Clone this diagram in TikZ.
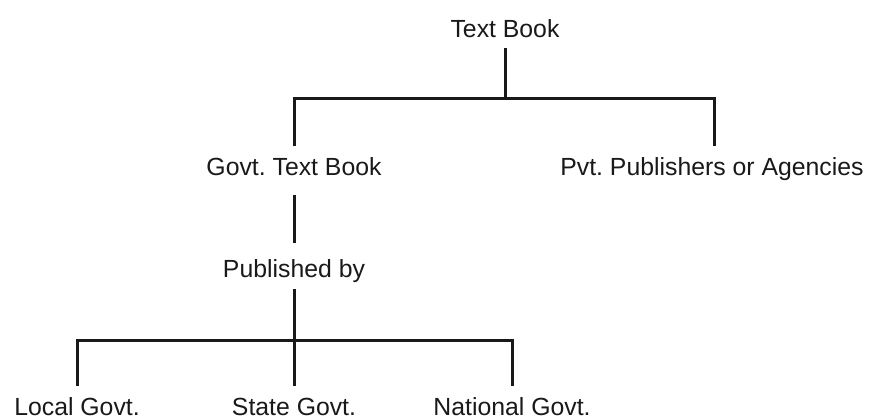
\documentclass[tikz,border=0pt]{standalone}
\usepackage{fontspec}
\setmainfont{Liberation Sans}
\frenchspacing
\begin{document}
\begin{tikzpicture}[x=0.5pt,y=-0.5pt,
  lbl/.style={inner sep=0pt, anchor=base, font=\fontsize{12.4}{14}\selectfont, text=black!90},
  conn/.style={line width=1.5pt, draw=black!90, line join=miter, line cap=butt}]
\useasboundingbox (0,0) rectangle (872,419);
% labels
\node[lbl] (tb)  at (505,37)  {Text Book};
\node[lbl] (gtb) at (294,175) {Govt. Text Book};
\node[lbl] (pvt) at (712,175) {Pvt. Publishers or Agencies};
\node[lbl] (pub) at (294,277) {Published by};
\node[lbl] (loc) at (77,415)  {Local Govt.};
\node[lbl] (st)  at (294,415) {State Govt.};
\node[lbl] (nat) at (512,415) {National Govt.};
% junction coordinates
\coordinate (tbB) at (505,48);
\coordinate (j1)  at (505,98);
\coordinate (jl)  at (294,98);
\coordinate (jr)  at (714,98);
\coordinate (gT)  at (294,146);
\coordinate (pT)  at (714,146);
\coordinate (gB)  at (294,195);
\coordinate (pbT) at (294,243);
\coordinate (pbB) at (294,289);
\coordinate (j2)  at (294,340);
\coordinate (j2l) at (77,340);
\coordinate (j2r) at (512,340);
\coordinate (lT)  at (77,386);
\coordinate (sT)  at (294,386);
\coordinate (nT)  at (512,386);
% connectors
\draw[conn] (tbB) -- (j1);
\draw[conn] (gT) -- (jl) -- (jr) -- (pT);
\draw[conn] (gB) -- (pbT);
\draw[conn] (pbB) -- (j2);
\draw[conn] (lT) -- (j2l) -- (j2r) -- (nT);
\draw[conn] (j2) -- (sT);
\end{tikzpicture}
\end{document}
